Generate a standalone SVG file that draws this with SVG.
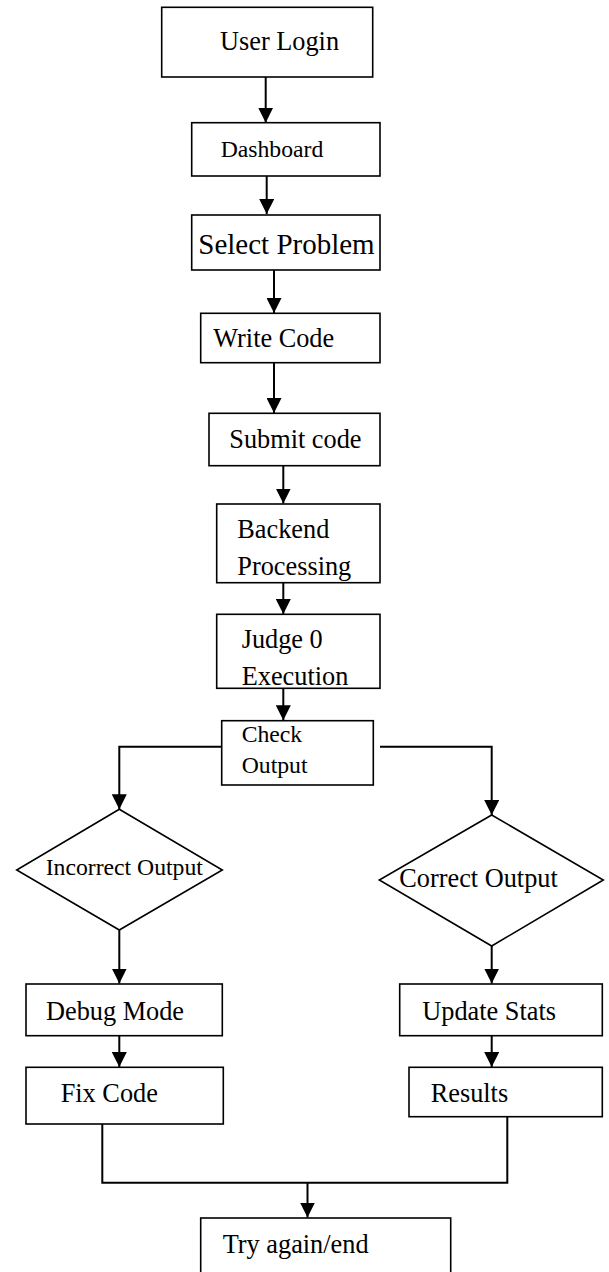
<svg xmlns="http://www.w3.org/2000/svg" width="609" height="1272" viewBox="0 0 609 1272">
  <style>
    .box { fill: #ffffff; stroke: #000000; stroke-width: 1.6; }
    .lbl { font-family: "Liberation Serif", "Times New Roman", serif; fill: #000000; font-size: 26.3px; }
    .sm { font-size: 23.7px; }
    .lg { font-size: 29px; }
    .wire { fill: none; stroke: #000000; stroke-width: 2; }
    .arrow { fill: none; stroke: #000000; stroke-width: 2; marker-end: url(#head); }
  </style>
  <defs>
    <marker id="head" markerUnits="userSpaceOnUse" markerWidth="15" markerHeight="15" refX="15" refY="7.5" orient="auto">
      <path d="M0,0 L15,7.5 L0,15 Z" fill="#000000"/>
    </marker>
  </defs>

  <rect width="609" height="1272" fill="#ffffff"/>

  <g id="connectors">
    <line class="arrow" x1="265.7" y1="77" x2="265.7" y2="122.7"/>
    <line class="arrow" x1="266.7" y1="176" x2="266.7" y2="214"/>
    <line class="arrow" x1="274" y1="270" x2="274" y2="313"/>
    <line class="arrow" x1="274" y1="362.7" x2="274" y2="413"/>
    <line class="arrow" x1="283.3" y1="465.7" x2="283.3" y2="503.5"/>
    <line class="arrow" x1="283.3" y1="582.7" x2="283.3" y2="614"/>
    <line class="arrow" x1="283.3" y1="688.3" x2="283.3" y2="720.3"/>
    <polyline class="arrow" points="221.7,746.7 119.3,746.7 119.3,809.3"/>
    <polyline class="arrow" points="380,746.7 491.7,746.7 491.7,815"/>
    <line class="arrow" x1="119.3" y1="930" x2="119.3" y2="983.5"/>
    <line class="arrow" x1="491.7" y1="946" x2="491.7" y2="983.5"/>
    <line class="arrow" x1="119.3" y1="1035.7" x2="119.3" y2="1067"/>
    <line class="arrow" x1="491.7" y1="1035.7" x2="491.7" y2="1067"/>
    <polyline class="wire" points="102.3,1124 102.3,1182.7 507.3,1182.7 507.3,1116.7"/>
    <line class="arrow" x1="307.5" y1="1182.7" x2="307.5" y2="1217.5"/>
  </g>

  <g id="user-login">
    <rect class="box" x="161.7" y="7.3" width="211" height="69.7"/>
    <text class="lbl" x="220" y="50">User Login</text>
  </g>

  <g id="dashboard">
    <rect class="box" x="191.7" y="122.7" width="188.3" height="53.3"/>
    <text class="lbl sm" x="220.7" y="156.7">Dashboard</text>
  </g>

  <g id="select-problem">
    <rect class="box" x="191.7" y="215" width="188.3" height="55"/>
    <text class="lbl lg" x="198.3" y="254">Select Problem</text>
  </g>

  <g id="write-code">
    <rect class="box" x="200.7" y="313.3" width="179.3" height="49.4"/>
    <text class="lbl" x="213.3" y="347.3">Write Code</text>
  </g>

  <g id="submit-code">
    <rect class="box" x="209" y="413.3" width="171" height="52.4"/>
    <text class="lbl" x="229.3" y="448.3">Submit code</text>
  </g>

  <g id="backend-processing">
    <rect class="box" x="216.7" y="504" width="163.3" height="78.7"/>
    <text class="lbl" x="237.3" y="538.3">Backend</text>
    <text class="lbl" x="237.3" y="575">Processing</text>
  </g>

  <g id="judge0-execution">
    <rect class="box" x="216.7" y="614.3" width="163.3" height="74"/>
    <text class="lbl" x="241.7" y="648.3">Judge 0</text>
    <text class="lbl" x="241.7" y="685">Execution</text>
  </g>

  <g id="check-output">
    <rect class="box" x="221.7" y="720.7" width="151.6" height="64.3"/>
    <text class="lbl sm" x="241.7" y="741.7">Check</text>
    <text class="lbl sm" x="241.7" y="773.3">Output</text>
  </g>

  <g id="incorrect-output">
    <polygon class="box" points="119.3,809.3 222.3,870 119.3,930 16.7,870"/>
    <text class="lbl sm" x="45.7" y="875">Incorrect Output</text>
  </g>

  <g id="correct-output">
    <polygon class="box" points="491.7,815 603.3,880 491.7,946 379.3,880"/>
    <text class="lbl" x="399.3" y="886.7">Correct Output</text>
  </g>

  <g id="debug-mode">
    <rect class="box" x="26" y="984" width="196.3" height="51.7"/>
    <text class="lbl" x="46" y="1020">Debug Mode</text>
  </g>

  <g id="fix-code">
    <rect class="box" x="26" y="1067.3" width="197.3" height="56.7"/>
    <text class="lbl" x="60.7" y="1101.7">Fix Code</text>
  </g>

  <g id="update-stats">
    <rect class="box" x="399.7" y="984" width="202.6" height="51.7"/>
    <text class="lbl" x="422.3" y="1020">Update Stats</text>
  </g>

  <g id="results">
    <rect class="box" x="409" y="1067.3" width="193.3" height="49.4"/>
    <text class="lbl" x="430.7" y="1102.3">Results</text>
  </g>

  <g id="try-again-end">
    <rect class="box" x="200.7" y="1218" width="250" height="80"/>
    <text class="lbl" x="222.7" y="1253.3">Try again/end</text>
  </g>
</svg>
